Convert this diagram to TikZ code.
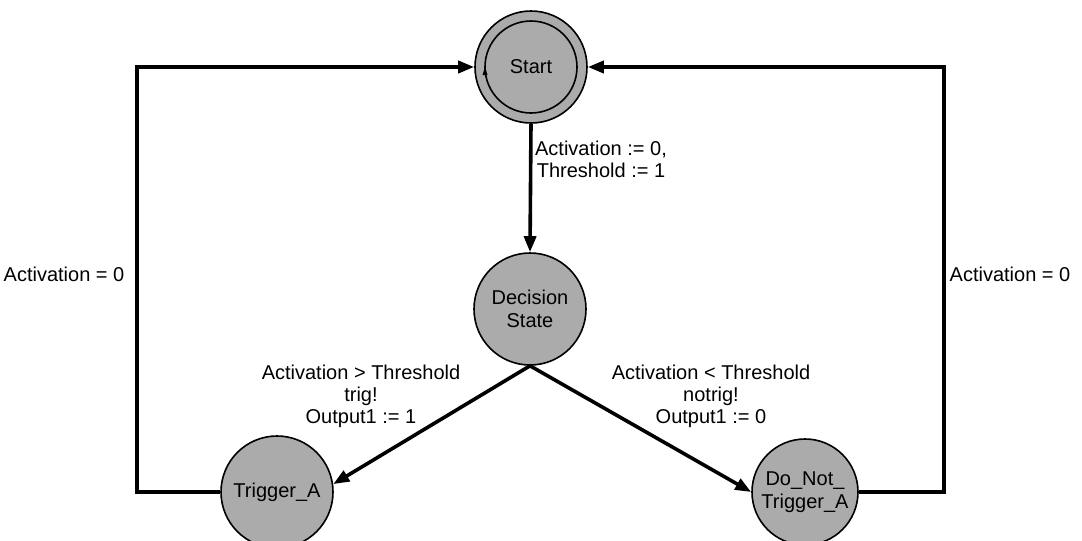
\documentclass[tikz,border=0pt]{standalone}
\usepackage{fontspec}
\setmainfont{Liberation Sans}
\usetikzlibrary{arrows.meta}
\begin{document}
\begin{tikzpicture}[x=0.5pt,y=-0.5pt,
  state/.style={circle,draw=black,line width=0.8pt,fill=black!33,minimum size=56pt,inner sep=0pt,align=center,font=\fontsize{10}{11.5}\selectfont},
  conn/.style={line width=1.8pt,-{Triangle[length=8pt,width=6pt]}},
  lbl/.style={align=center,font=\fontsize{10}{11}\selectfont,inner sep=0pt}]
\useasboundingbox (0,0) rectangle (1082,541);
\node[state,minimum size=56pt] (start) at (531,67) {};
\draw[line width=0.8pt] (start.center) circle (23pt);
\node[font=\fontsize{10}{11.5}\selectfont] at (start.center) {Start};
\fill (485,67) -- (482.5,75) -- (487.5,75) -- cycle;
\node[state] (dec) at (530,309) {Decision\\State};
\node[state] (trig) at (277,492) {Trigger\_A};
\node[state,minimum size=53pt] (dnt) at (805,492) {Do\_Not\_\\Trigger\_A};
\coordinate (lx) at (137,0);
\coordinate (rx) at (944,0);
\draw[conn] (start.south) -- (dec.north);
\draw[conn] (dec.south) -- (trig.8);
\draw[conn] (dec.south) -- (dnt.west);
\draw[conn] (trig.west) -- (trig.west -| lx) |- (start.west);
\draw[conn] (dnt.east) -- (dnt.east -| rx) |- (start.east);
\node[lbl] (l1) at (601,159) {Activation := 0,\\Threshold := 1};
\node[lbl] (l2) at (64,274) {Activation = 0};
\node[lbl] (l3) at (1010,274) {Activation = 0};
\node[lbl] (l4) at (361,396) {Activation > Threshold\\trig!\\Output1 := 1};
\node[lbl] (l5) at (711,396) {Activation < Threshold\\notrig!\\Output1 := 0};
\end{tikzpicture}
\end{document}
